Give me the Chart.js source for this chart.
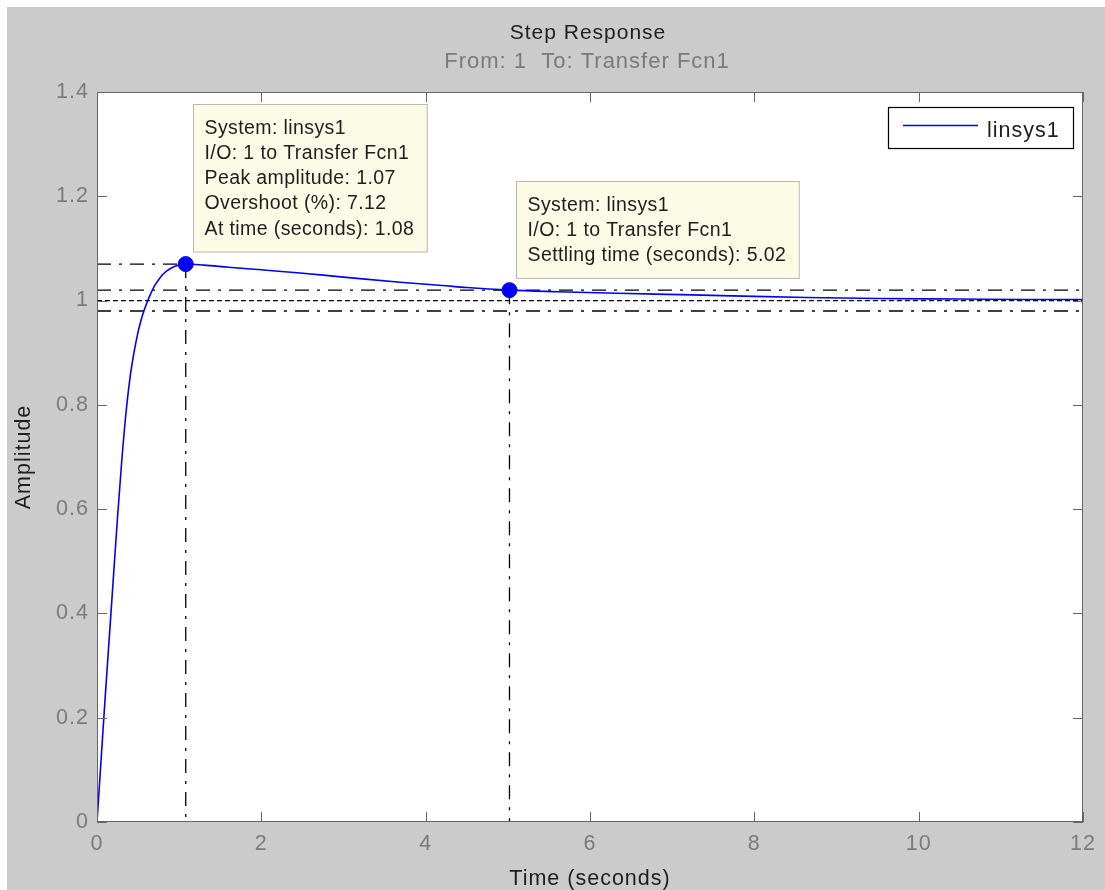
<!DOCTYPE html>
<html>
<head>
<meta charset="utf-8">
<title>Step Response</title>
<script src="https://cdn.jsdelivr.net/npm/chart.js@4.4.0/dist/chart.umd.min.js"></script>
<style>
    html, body { margin: 0; padding: 0; background: #ffffff; }
    #wrap { width: 1105px; height: 890px; }
</style>
</head>
<body>
<div id="wrap"><canvas id="step-chart" width="1105" height="890"></canvas></div>
<script>
// Step response of linsys1
const curveTimes = [0, 0.05, 0.10, 0.15, 0.20, 0.25, 0.30, 0.35, 0.40, 0.45, 0.50, 0.55, 0.60, 0.65, 0.70, 0.75, 0.80, 0.85, 0.90, 0.95, 1.00,
    1.08, 1.30, 1.60, 2.00, 2.47, 3.00, 3.69, 4.20, 4.50, 5.02, 5.60, 6.33, 7.24, 8.00, 8.64, 9.50, 10.5, 11.3, 12];
const curveAmplitudes = [0, 0.12, 0.24, 0.355, 0.47, 0.585, 0.69, 0.78, 0.85, 0.90, 0.94, 0.97, 0.993, 1.012, 1.028, 1.04, 1.05, 1.057, 1.062, 1.066, 1.068,
    1.07, 1.068, 1.064, 1.059, 1.053, 1.045, 1.035, 1.029, 1.025, 1.02, 1.017, 1.014, 1.011, 1.008, 1.006, 1.004, 1.003, 1.002, 1.002];

// characteristic points: [time, amplitude]
const peakPoint = [1.08, 1.07];
const settlingPoint = [5.02, 1.02];
const settlingBand = [0.98, 1.02];
const steadyState = [1];

const xTickValues = [0, 2, 4, 6, 8, 10, 12];
const xTickLabels = ['0', '2', '4', '6', '8', '10', '12'];
const yTickValues = [0, 0.2, 0.4, 0.6, 0.8, 1, 1.2, 1.4];
const yTickLabels = ['0', '0.2', '0.4', '0.6', '0.8', '1', '1.2', '1.4'];

const peakTipLines = ['System: linsys1', 'I/O: 1 to Transfer Fcn1', 'Peak amplitude: 1.07', 'Overshoot (%): 7.12', 'At time (seconds): 1.08'];
const settlingTipLines = ['System: linsys1', 'I/O: 1 to Transfer Fcn1', 'Settling time (seconds): 5.02'];
const legendLabels = ['linsys1'];

const FONT = '"Liberation Sans", Arial, sans-serif';
const BLUE = '#0000ff';
const DASH_DOT = [14, 8, 3, 8];
const DOTTED = [5, 3];

function refLine(points, dash) {
    return {
        data: points,
        borderColor: '#000000',
        borderWidth: 1.3,
        borderDash: dash,
        pointRadius: 0,
        fill: false,
        order: 3
    };
}

const xMin = xTickValues[0];
const xMax = xTickValues[xTickValues.length - 1];

const datasets = [
    {
        label: 'markers',
        data: [{ x: peakPoint[0], y: peakPoint[1] }, { x: settlingPoint[0], y: settlingPoint[1] }],
        showLine: false,
        pointRadius: 7.5,
        pointBackgroundColor: BLUE,
        pointBorderColor: BLUE,
        order: 0
    },
    {
        label: legendLabels[0],
        data: curveTimes.map((t, i) => ({ x: t, y: curveAmplitudes[i] })),
        borderColor: BLUE,
        borderWidth: 1.6,
        pointRadius: 0,
        cubicInterpolationMode: 'monotone',
        fill: false,
        order: 1
    },
    refLine([{ x: xMin, y: peakPoint[1] }, { x: peakPoint[0], y: peakPoint[1] }], DASH_DOT),
    refLine([{ x: peakPoint[0], y: peakPoint[1] }, { x: peakPoint[0], y: 0 }], DASH_DOT),
    refLine([{ x: settlingPoint[0], y: settlingPoint[1] }, { x: settlingPoint[0], y: 0 }], DASH_DOT),
    refLine([{ x: xMin, y: settlingBand[1] }, { x: xMax, y: settlingBand[1] }], DASH_DOT),
    refLine([{ x: xMin, y: settlingBand[0] }, { x: xMax, y: settlingBand[0] }], DASH_DOT),
    refLine([{ x: xMin, y: steadyState[0] }, { x: xMax, y: steadyState[0] }], DOTTED)
];

// gray figure, white axes, inward ticks, box, titles, datatips and legend
const matlabLook = {
    id: 'matlabLook',
    beforeDraw(chart) {
        const { ctx, chartArea: a } = chart;
        ctx.save();
        ctx.fillStyle = '#ffffff';
        ctx.fillRect(0, 0, chart.width, chart.height);
        ctx.fillStyle = '#cbcbcb';
        ctx.fillRect(7, 7, chart.width - 7, chart.height - 7);
        ctx.fillStyle = '#ffffff';
        ctx.fillRect(a.left, a.top, a.right - a.left, a.bottom - a.top);
        ctx.restore();
        // the windows fonts in the original run a bit wide
        ctx.letterSpacing = '1px';
    },
    afterDraw(chart) {
        const { ctx, chartArea: a, scales: { x, y } } = chart;
        ctx.save();

        // box and ticks
        ctx.strokeStyle = '#666666';
        ctx.lineWidth = 1;
        ctx.strokeRect(a.left + 0.5, a.top + 0.5, a.right - a.left - 1, a.bottom - a.top - 1);
        ctx.beginPath();
        xTickValues.forEach(v => {
            const px = Math.round(x.getPixelForValue(v)) + 0.5;
            ctx.moveTo(px, a.bottom); ctx.lineTo(px, a.bottom - 10);
            ctx.moveTo(px, a.top); ctx.lineTo(px, a.top + 10);
        });
        yTickValues.forEach(v => {
            const py = Math.round(y.getPixelForValue(v)) + 0.5;
            ctx.moveTo(a.left, py); ctx.lineTo(a.left + 10, py);
            ctx.moveTo(a.right, py); ctx.lineTo(a.right - 10, py);
        });
        ctx.stroke();

        // titles
        const midX = (a.left + a.right) / 2;
        ctx.textAlign = 'center';
        ctx.textBaseline = 'alphabetic';
        ctx.letterSpacing = '1px';
        ctx.font = '21px ' + FONT;
        ctx.fillStyle = '#1e1e1e';
        ctx.fillText('Step Response', midX - 2, 39);
        ctx.font = '22px ' + FONT;
        ctx.fillStyle = '#7a7a7a';
        ctx.fillText('From: 1  To: Transfer Fcn1', midX - 3, 68);

        // datatips
        const drawTip = (point, lines) => {
            const px = x.getPixelForValue(point[0]);
            const py = y.getPixelForValue(point[1]);
            ctx.font = '19.5px ' + FONT;
            ctx.letterSpacing = '0.4px';
            const w = Math.max(...lines.map(l => ctx.measureText(l).width)) + 24;
            const h = lines.length * 25.3 + 21;
            const left = Math.round(px + 7) + 0.5;
            const top = Math.round(py - 12.5 - h) + 0.5;
            ctx.fillStyle = '#fbfbe6';
            ctx.fillRect(left, top, w, h);
            ctx.strokeStyle = '#b9b9b0';
            ctx.lineWidth = 1;
            ctx.strokeRect(left, top, w, h);
            ctx.fillStyle = '#1e1e1e';
            ctx.textAlign = 'left';
            lines.forEach((l, i) => ctx.fillText(l, left + 11, top + 29 + i * 25.3));
        };
        drawTip(peakPoint, peakTipLines);
        drawTip(settlingPoint, settlingTipLines);

        // legend
        ctx.fillStyle = '#ffffff';
        ctx.fillRect(888.5, 107.5, 185, 41);
        ctx.strokeStyle = '#000000';
        ctx.lineWidth = 1.2;
        ctx.strokeRect(888.5, 107.5, 185, 41);
        ctx.strokeStyle = BLUE;
        ctx.lineWidth = 1.6;
        ctx.beginPath();
        ctx.moveTo(903, 125.5); ctx.lineTo(978, 125.5);
        ctx.stroke();
        ctx.font = '21.5px ' + FONT;
        ctx.letterSpacing = '1px';
        ctx.fillStyle = '#1e1e1e';
        ctx.textAlign = 'left';
        ctx.fillText(legendLabels[0], 987, 137);

        ctx.restore();
    }
};

new Chart(document.getElementById('step-chart'), {
    type: 'line',
    data: { datasets },
    options: {
        responsive: false,
        animation: false,
        layout: { padding: { left: 0, top: 92, right: 22, bottom: 0 } },
        plugins: {
            legend: { display: false },
            tooltip: { enabled: false }
        },
        scales: {
            x: {
                type: 'linear',
                min: xMin,
                max: xMax,
                afterBuildTicks: s => { s.ticks = xTickValues.map(v => ({ value: v })); },
                afterFit: s => { s.height = 68; },
                grid: { display: false, drawTicks: false },
                border: { display: false },
                ticks: {
                    autoSkip: false,
                    maxRotation: 0,
                    padding: 9,
                    color: '#7b7b7b',
                    font: { family: FONT, size: 21.5 },
                    callback: (v, i) => xTickLabels[i]
                },
                title: {
                    display: true,
                    text: 'Time (seconds)',
                    color: '#1e1e1e',
                    font: { family: FONT, size: 21.5, lineHeight: 1 },
                    padding: { top: 0, bottom: 0 }
                }
            },
            y: {
                type: 'linear',
                min: yTickValues[0],
                max: yTickValues[yTickValues.length - 1],
                afterBuildTicks: s => { s.ticks = yTickValues.map(v => ({ value: v })); },
                afterFit: s => { s.width = 97; },
                grid: { display: false, drawTicks: false },
                border: { display: false },
                ticks: {
                    autoSkip: false,
                    padding: 8,
                    color: '#7b7b7b',
                    font: { family: FONT, size: 21.5 },
                    callback: (v, i) => yTickLabels[i]
                },
                title: {
                    display: true,
                    text: 'Amplitude',
                    color: '#1e1e1e',
                    font: { family: FONT, size: 21.5, lineHeight: 1 },
                    padding: { top: 13, bottom: 0 }
                }
            }
        }
    },
    plugins: [matlabLook]
});
</script>
</body>
</html>
